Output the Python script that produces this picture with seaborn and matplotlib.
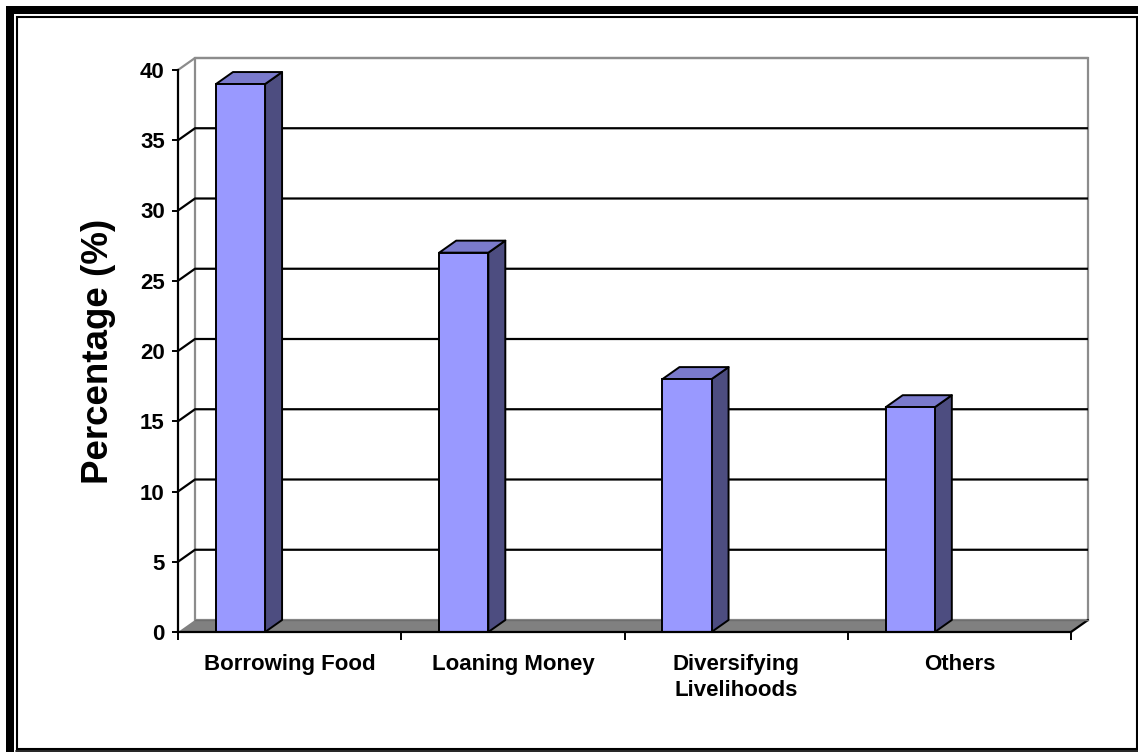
import matplotlib
matplotlib.use("Agg")
import matplotlib.pyplot as plt
from matplotlib.patches import Polygon, Rectangle
import numpy as np
import pandas as pd
import seaborn as sns

# Data
categories = ["Borrowing Food", "Loaning Money", "Diversifying\nLivelihoods", "Others"]
values = [39, 27, 18, 16]
y_ticks = [0, 5, 10, 15, 20, 25, 30, 35, 40]
y_label = "Percentage (%)"

sns.set_style("white")
plt.rcParams["font.family"] = ["Liberation Sans", "DejaVu Sans"]
plt.rcParams["font.weight"] = "bold"
plt.rcParams["text.color"] = "black"
plt.rcParams["axes.labelcolor"] = "black"

W, H, DPI = 1138, 752, 100
fig = plt.figure(figsize=(W / DPI, H / DPI), dpi=DPI)
ax = fig.add_axes([178 / W, 1 - 632 / H, (1071 - 178) / W, (632 - 70) / H])
ax.patch.set_visible(False)

FRONT = "#9999FF"
TOP = "#7A7ACC"
SIDE = "#4D4D80"
FLOOR = "#808080"
WALL_EDGE = "#8C8C8C"

df = pd.DataFrame({"category": categories, "value": values})
sns.barplot(data=df, x="category", y="value", width=0.22, color=FRONT,
            saturation=1, edgecolor="black", linewidth=1.4, ax=ax, zorder=4)

n = len(categories)
x0, x1 = -0.5, n - 0.5
ax.set_xlim(x0, x1)
ax.set_ylim(0, 40)

# depth of the 3-D box, in pixels
DX, DY = 17, 12


def back(x, y):
    """Data point pushed back by the chart depth."""
    d = ax.transData.transform((x, y)) + np.array([DX, DY])
    return tuple(ax.transData.inverted().transform(d))


# back wall
wall = Polygon([back(x0, 0), back(x0, 40), back(x1, 40), back(x1, 0)],
               closed=True, facecolor="white", edgecolor=WALL_EDGE, lw=1.6,
               zorder=0.5, clip_on=False)
ax.add_patch(wall)

# gridlines across side wall and back wall
for t in y_ticks[1:]:
    col = WALL_EDGE if t == 40 else "black"
    pts = np.array([(x0, t), back(x0, t), back(x1, t)])
    ax.plot(pts[:, 0], pts[:, 1], color=col, lw=1.6, zorder=1,
            clip_on=False, solid_capstyle="butt")

# floor
floor = Polygon([(x0, 0), (x1, 0), back(x1, 0), back(x0, 0)], closed=True,
                facecolor=FLOOR, edgecolor="none", zorder=1.5, clip_on=False)
ax.add_patch(floor)
pts = np.array([(x1, 0), back(x1, 0)])
ax.plot(pts[:, 0], pts[:, 1], color="black", lw=1.6, zorder=1.6, clip_on=False)
pts = np.array([back(x0, 0), back(x1, 0)])
ax.plot(pts[:, 0], pts[:, 1], color="#6E6E6E", lw=1.0, zorder=1.6, clip_on=False)

# shift bars within their category and add the top and side faces
for p in ax.patches:
    if not isinstance(p, Rectangle) or p.get_width() > 1:
        continue
    p.set_x(p.get_x() - 0.22)
    l = p.get_x()
    r = l + p.get_width()
    v = p.get_height()
    side = Polygon([(r, 0), (r, v), back(r, v), back(r, 0)], closed=True,
                   facecolor=SIDE, edgecolor="black", lw=1.4, zorder=3,
                   clip_on=False, joinstyle="round")
    top = Polygon([(l, v), (r, v), back(r, v), back(l, v)], closed=True,
                  facecolor=TOP, edgecolor="black", lw=1.4, zorder=3,
                  clip_on=False, joinstyle="round")
    ax.add_patch(side)
    ax.add_patch(top)

# axes
for s in ["top", "right"]:
    ax.spines[s].set_visible(False)
for s in ["left", "bottom"]:
    ax.spines[s].set_color("black")
    ax.spines[s].set_linewidth(1.6)
    ax.spines[s].set_zorder(5)

ax.set_yticks(y_ticks)
ax.set_yticklabels([str(t) for t in y_ticks], fontsize=16, fontweight="bold")
ax.tick_params(axis="y", direction="out", length=4.5, width=1.4, pad=5,
               left=True, colors="black")

ax.set_xticks(range(n))
ax.set_xticklabels(categories, fontsize=16, fontweight="bold", linespacing=1.32,
                   va="top")
ax.set_xticks(np.arange(n + 1) - 0.5, minor=True)
ax.tick_params(axis="x", which="major", length=0, pad=16, colors="black")
ax.tick_params(axis="x", which="minor", direction="out", length=6, width=1.4,
               bottom=True, colors="black")
ax.set_xlabel("")
ax.set_ylabel(y_label, fontsize=26.5, fontweight="bold", va="center",
              color="black")
ax.yaxis.set_label_coords((98 - 178) / (1071 - 178), 0.5)

# outer frame
def fx(px):
    return px / W


def fy(py):
    return 1 - py / H


fig.add_artist(Rectangle((fx(6), fy(14)), fx(W) - fx(6), fy(6) - fy(14),
                         transform=fig.transFigure, color="black", lw=0))
fig.add_artist(Rectangle((fx(6), fy(H)), fx(14) - fx(6), fy(6) - fy(H),
                         transform=fig.transFigure, color="black", lw=0))
fig.add_artist(Rectangle((fx(16.5), fy(748.5)), fx(1136.5) - fx(16.5),
                         fy(16.5) - fy(748.5), transform=fig.transFigure,
                         fill=False, edgecolor="black", lw=1.5))
fig.add_artist(plt.Line2D([fx(16), fx(W)], [fy(751.3), fy(751.3)],
                          transform=fig.transFigure, color="black", lw=1.2))

fig.savefig("out.png", dpi=DPI)
